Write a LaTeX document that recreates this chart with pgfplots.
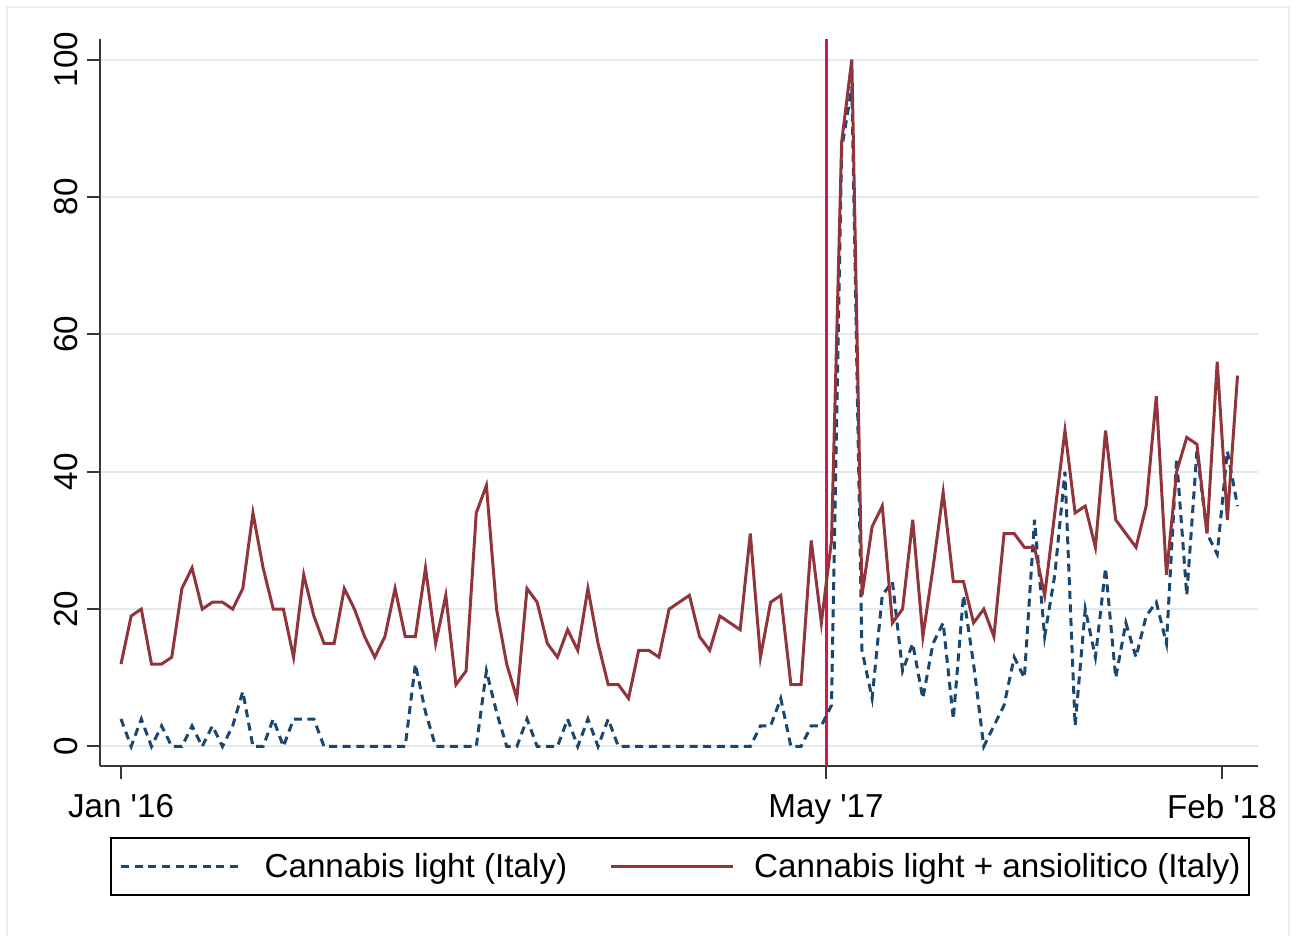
\documentclass[border=0pt]{standalone}
\usepackage{fontspec}
\setmainfont{Liberation Sans}
\usepackage{pgfplots}
\usepackage{pgfplotstable}
\pgfplotsset{compat=1.18}

\definecolor{stnavy}{RGB}{26,71,111}
\definecolor{stmaroon}{RGB}{144,53,59}
\definecolor{vlinec}{RGB}{215,25,65}
\definecolor{gridc}{RGB}{226,235,239}
\definecolor{framec}{RGB}{230,238,241}
\definecolor{axisc}{RGB}{55,55,55}

% weekly index (0 = first week of Jan 2016), Google Trends style values
\pgfplotstableread{
w light ansio
0 4 12
1 0 19
2 4 20
3 0 12
4 3 12
5 0 13
6 0 23
7 3 26
8 0 20
9 3 21
10 0 21
11 3 20
12 8 23
13 0 34
14 0 26
15 4 20
16 0 20
17 4 13
18 4 25
19 4 19
20 0 15
21 0 15
22 0 23
23 0 20
24 0 16
25 0 13
26 0 16
27 0 23
28 0 16
29 12 16
30 5 26
31 0 15
32 0 22
33 0 9
34 0 11
35 0 34
36 11 38
37 5 20
38 0 12
39 0 7
40 4 23
41 0 21
42 0 15
43 0 13
44 4 17
45 0 14
46 4 23
47 0 15
48 4 9
49 0 9
50 0 7
51 0 14
52 0 14
53 0 13
54 0 20
55 0 21
56 0 22
57 0 16
58 0 14
59 0 19
60 0 18
61 0 17
62 0 31
63 3 13
64 3 21
65 7 22
66 0 9
67 0 9
68 3 30
69 3 18
70 6 30
71 87 88
72 96 100
73 14 22
74 7 32
75 22 35
76 24 18
77 11 20
78 15 33
79 7 16
80 15 26
81 18 37
82 4 24
83 22 24
84 12 18
85 0 20
86 3 16
87 6 31
88 13 31
89 10 29
90 33 29
91 16 22
92 25 34
93 40 46
94 3 34
95 20 35
96 13 29
97 26 46
98 10 33
99 18 31
100 13 29
101 19 35
102 21 51
103 15 25
104 42 40
105 22 45
106 43 44
107 31 31
108 28 56
109 43 33
110 35 54
}\trends

\begin{document}
\begin{tikzpicture}
\draw[framec, line width=1pt] (3.5pt,0pt) -- (3.5pt,464.5pt) -- (644.5pt,464.5pt) -- (644.5pt,0pt);
\begin{axis}[
    at={(50pt,85pt)}, anchor=south west,
    scale only axis, width=579pt, height=363.5pt,
    xmin=-2.07, xmax=112.02,
    ymin=-2.84, ymax=103.0,
    axis x line*=bottom, axis y line*=left,
    axis line style={line width=1pt, draw=axisc, -},
    tick align=outside,
    major tick length=6.5pt,
    tick style={line width=1pt, draw=axisc},
    xtick={0,69.46,108.47},
    xticklabels={Jan \textquotesingle16, May \textquotesingle17, Feb \textquotesingle18},
    ytick={0,20,40,60,80,100},
    ymajorgrids=true,
    grid style={gridc, line width=1pt},
    font=\fontsize{16.6}{19}\selectfont,
    /pgf/number format/assume math mode=true,
    yticklabel style={xshift=-4.5pt, rotate=90, anchor=south, inner sep=0pt},
    xticklabel style={yshift=-7.5pt, anchor=north, inner sep=0pt},
    legend columns=2,
    legend style={at={(0.5009,-0.0977)}, anchor=north,
        draw=black, line width=1pt,
        inner xsep=4.5pt, inner ysep=7.5pt,
        nodes={inner sep=0pt},
        /tikz/every odd column/.append style={column sep=10pt},
        /tikz/every even column/.append style={column sep=21pt}},
    legend image code/.code={\draw[#1, line width=1.5pt] (0pt,0pt) -- (61pt,0pt);},
    ]
    \addplot[vlinec, line width=1.5pt, forget plot] coordinates {(69.46,-2.84) (69.46,103.0)};
    \addplot[stnavy, line width=1.5pt, dash pattern=on 4pt off 2.8pt] table[x=w, y=light] {\trends};
    \addlegendentry{Cannabis light (Italy)}
    \addplot[stmaroon, line width=1.5pt] table[x=w, y=ansio] {\trends};
    \addlegendentry{Cannabis light + ansiolitico (Italy)}
\end{axis}
\pgfresetboundingbox
\useasboundingbox (0pt,0pt) rectangle (647.5pt,468pt);
\end{tikzpicture}
\end{document}
